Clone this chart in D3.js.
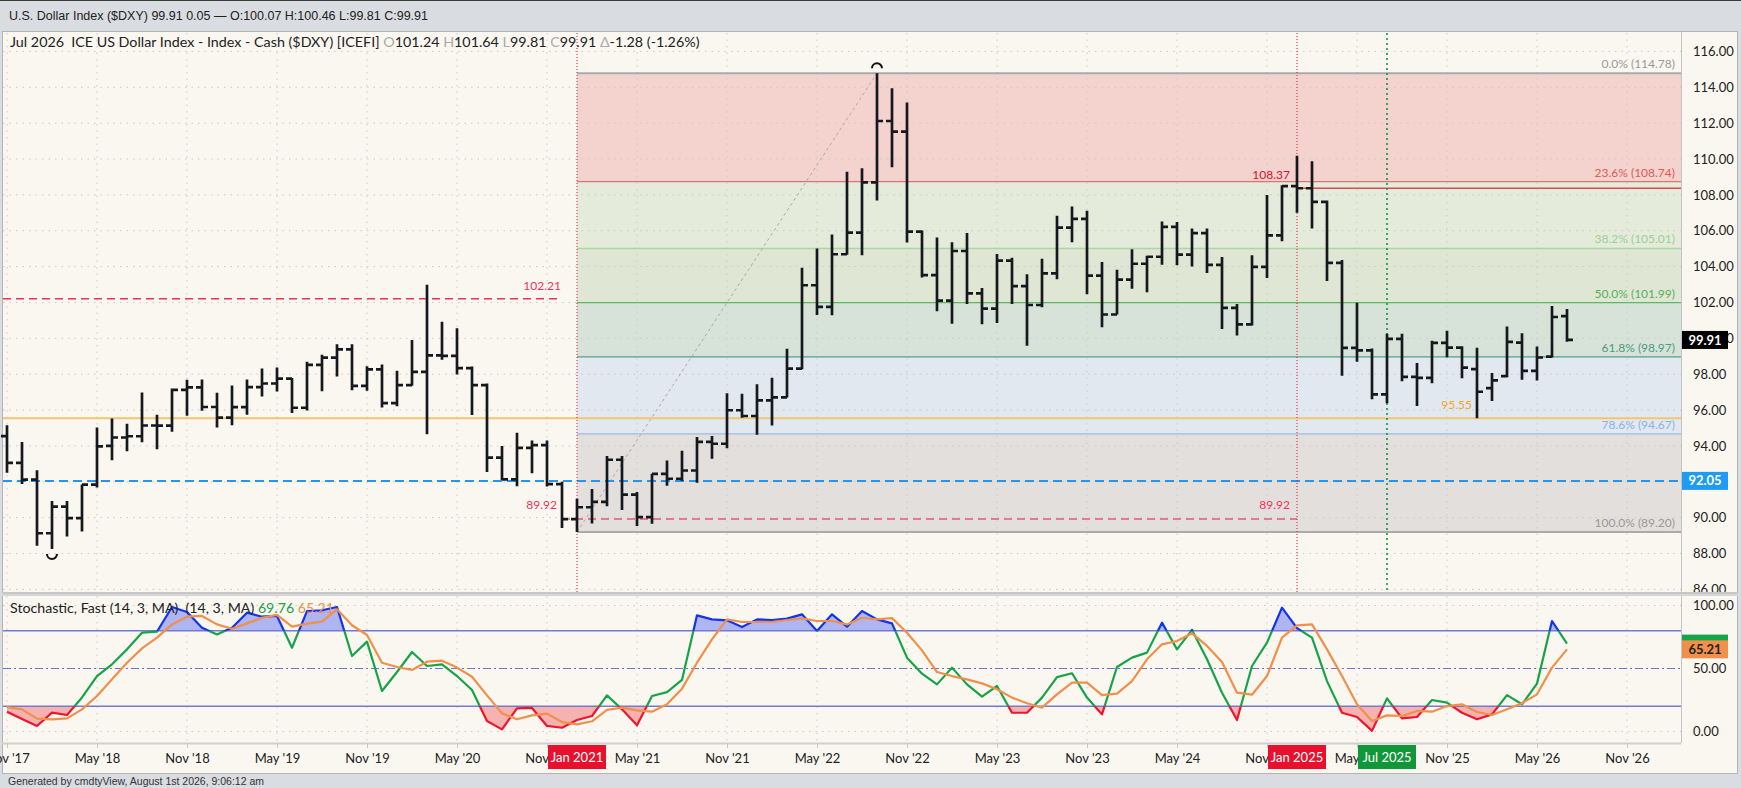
<!DOCTYPE html>
<html>
<head>
<meta charset="utf-8">
<script src="https://cdn.jsdelivr.net/npm/d3@7"></script>
<style>
  body { margin: 0; background: #d9dce0; }
  svg { display: block; font-family: Lato, "Open Sans", sans-serif; }
</style>
</head>
<body>
<div id="chart"></div>
<script>
/* monthly OHLC, Nov 2017 .. Jul 2026 */
const months = d3.timeMonth.range(new Date(2017, 10, 1), new Date(2026, 7, 1));

const open = [94.55, 93.06, 92.12, 89.13, 90.61, 89.97, 91.84, 94.00, 94.47, 94.54, 95.14, 95.13,
  97.13, 97.27, 96.17, 95.58, 96.16, 97.28, 97.48, 97.75, 96.13, 98.52, 98.92, 99.38,
  97.35, 98.27, 96.39, 97.39, 98.13, 99.05, 99.02, 98.34, 97.39, 93.35, 92.14, 93.89,
  94.04, 91.87, 89.92, 90.58, 90.88, 93.23, 91.28, 90.03, 92.44, 92.17, 92.63, 94.23,
  94.12, 95.99, 95.67, 96.54, 96.71, 98.31, 102.96, 101.75, 104.69, 105.90, 108.70, 112.12,
  111.53, 105.95, 103.52, 102.10, 104.87, 102.51, 101.66, 104.33, 102.91, 101.86, 103.62, 106.17,
  106.66, 103.50, 101.33, 103.27, 104.16, 104.55, 106.22, 104.67, 105.87, 104.10, 101.70, 100.78,
  103.99, 105.74, 108.49, 108.37, 107.61, 104.21, 99.47, 99.33, 96.88, 99.97, 97.85, 97.80,
  99.75, 99.48, 98.28, 97.22, 97.89, 99.76, 98.19, 98.98, 101.24];
const high = [95.15, 94.22, 92.64, 90.93, 90.93, 91.85, 95.03, 95.53, 95.24, 96.98, 95.74, 97.20,
  97.69, 97.71, 96.96, 97.37, 97.71, 98.32, 98.37, 97.79, 98.69, 99.09, 99.67, 99.67,
  98.45, 98.54, 98.19, 99.91, 102.99, 100.93, 100.56, 98.43, 97.48, 93.99, 94.74, 94.30,
  94.30, 92.00, 91.05, 91.60, 93.44, 93.44, 91.43, 92.45, 93.19, 93.73, 94.50, 94.56,
  96.94, 96.91, 97.44, 97.80, 99.42, 103.93, 105.01, 105.79, 109.29, 109.48, 114.78, 113.95,
  113.15, 106.02, 105.63, 105.36, 105.88, 102.81, 104.70, 104.50, 103.57, 104.44, 106.84, 107.35,
  107.11, 104.26, 103.82, 104.97, 104.60, 106.52, 106.49, 106.13, 106.13, 104.54, 101.91, 104.63,
  107.99, 108.54, 110.18, 109.88, 107.68, 104.37, 101.98, 99.44, 100.25, 100.26, 98.62, 99.86,
  100.42, 99.56, 99.48, 98.06, 100.66, 100.29, 99.54, 101.81, 101.64];
const low = [92.50, 91.87, 88.44, 88.25, 88.95, 89.23, 91.68, 93.20, 93.71, 94.21, 93.81, 94.79,
  95.68, 95.96, 95.03, 95.16, 95.74, 96.75, 97.04, 95.84, 95.98, 97.05, 97.87, 97.11,
  97.08, 96.14, 96.21, 97.35, 94.65, 98.81, 97.99, 95.72, 92.55, 92.10, 91.75, 92.47,
  91.74, 89.42, 89.20, 89.68, 90.63, 90.42, 89.53, 89.66, 91.78, 92.04, 91.94, 93.28,
  93.87, 95.57, 94.63, 95.14, 96.70, 98.28, 101.30, 101.29, 104.66, 104.64, 107.68, 109.54,
  105.34, 103.39, 101.51, 100.82, 101.92, 100.79, 100.86, 101.92, 99.58, 101.74, 103.29, 105.36,
  102.46, 100.62, 101.33, 102.76, 102.57, 104.10, 104.08, 104.01, 103.65, 100.52, 100.16, 100.71,
  103.37, 105.42, 107.00, 106.13, 103.20, 97.92, 98.69, 96.60, 96.38, 97.60, 96.23, 97.50,
  98.94, 97.78, 95.55, 96.51, 97.83, 97.69, 97.65, 98.93, 99.81];
const close = [93.05, 92.12, 89.13, 90.61, 89.97, 91.84, 93.98, 94.47, 94.54, 95.14, 95.13, 97.13,
  97.27, 96.17, 95.58, 96.16, 97.28, 97.48, 97.75, 96.13, 98.52, 98.92, 99.38, 97.35,
  98.27, 96.39, 97.39, 98.13, 99.05, 99.02, 98.34, 97.39, 93.35, 92.14, 93.89, 94.04,
  91.87, 89.92, 90.58, 90.88, 93.23, 91.28, 90.03, 92.44, 92.17, 92.63, 94.23, 94.12,
  95.99, 95.67, 96.54, 96.71, 98.31, 102.96, 101.75, 104.69, 105.90, 108.70, 112.12, 111.53,
  105.95, 103.52, 102.10, 104.87, 102.51, 101.66, 104.33, 102.91, 101.86, 103.62, 106.17, 106.66,
  103.50, 101.33, 103.27, 104.16, 104.55, 106.22, 104.67, 105.87, 104.10, 101.70, 100.78, 103.99,
  105.74, 108.49, 108.37, 107.61, 104.21, 99.47, 99.33, 96.88, 99.97, 97.85, 97.80, 99.75,
  99.48, 98.37, 97.02, 97.65, 99.80, 98.19, 98.93, 101.19, 99.91];

/* stochastic fast %K and %D */
const stochK = [15.7, 10, 4.4, 15, 13.1, 27, 44, 53.3, 65.2, 78.4, 79.2, 98.8,
  94.8, 82.4, 77, 82.4, 94.3, 91.1, 91.7, 66.5, 95.6, 96.2, 98.8, 59.9,
  71.3, 32.1, 47.2, 63.1, 52, 53.3, 44, 32.9, 8.3, 1.7, 18.4, 18.7,
  4.4, 3, 9.1, 12.3, 28.7, 17.6, 4.9, 28.2, 31.3, 40.9, 92.2, 89,
  88.2, 82.9, 89, 88.5, 89.6, 93, 79.8, 93, 83.2, 95.6, 89, 85.8,
  58.6, 45.9, 37.4, 50.7, 37.4, 27.6, 36.1, 14.9, 14.9, 26.9, 43.2, 46.2,
  26.9, 13.6, 51.2, 58.6, 62.6, 86.4, 65.2, 80.6, 57.3, 30.8, 9.1, 52,
  70.5, 98.3, 82, 74.5, 40, 14.9, 11.5, 0.5, 26.3, 10.4, 11.5, 25,
  22.9, 14.9, 9.7, 13.6, 28.9, 21.6, 38, 87.7, 69.76];
const stochD = [19.4, 17.6, 10.2, 9.7, 10.4, 17.6, 28.2, 41.4, 54.6, 66, 74.5, 85,
  91.1, 91.7, 85, 81.6, 85.8, 90.3, 92.5, 83.2, 85.6, 87.2, 97, 84.3,
  76.6, 54.6, 51.2, 48.8, 55.4, 56.2, 50.7, 43.5, 28.7, 14.4, 9.7, 12.8,
  14.2, 7.5, 5.7, 8.1, 17.1, 18.9, 16.8, 15.7, 21.6, 34, 54.6, 73.1,
  89, 86.9, 86.9, 86.9, 88.5, 89.8, 87.7, 87.7, 85, 90.3, 89, 90,
  78.4, 64.4, 47.2, 44, 41.4, 38.2, 33.5, 26.9, 22.4, 18.9, 29.5, 38.8,
  38.8, 28.9, 30, 40, 57.3, 69.2, 71.8, 77.9, 67.9, 55.1, 30.8, 29.2,
  44, 74.5, 84.3, 85, 65.2, 44, 21.6, 8.3, 12.8, 12.3, 16.3, 15.7,
  20.2, 21.6, 15.5, 13.1, 17.6, 22.4, 29.5, 50.7, 65.21];

const tickLabels = ["Nov '17", "May '18", "Nov '18", "May '19", "Nov '19", "May '20", "Nov '20",
  "May '21", "Nov '21", "May '22", "Nov '22", "May '23", "Nov '23", "May '24", "Nov '24",
  "May '25", "Nov '25", "May '26", "Nov '26"];
const tickIdx = tickLabels.map((d, i) => i * 6);

const priceTicks = d3.range(86, 117, 2);
const fibPct = ["0.0%", "23.6%", "38.2%", "50.0%", "61.8%", "78.6%", "100.0%"];
const fibVal = [114.78, 108.74, 105.01, 101.99, 98.97, 94.67, 89.20];

/* event markers on the time axis */
const markers = [
  { label: "Jan 2021", idx: 38, color: "#e8112d" },
  { label: "Jan 2025", idx: 86, color: "#e8112d" },
  { label: "Jul 2025", idx: 92, color: "#12963a" }
];

const width = 1741, height = 788;
const plot = { left: 3, right: 1681, top: 33, bottom: 592 };
const sp = { top: 596, bottom: 743 };

const svg = d3.select("#chart").append("svg")
  .attr("width", width).attr("height", height)
  .attr("viewBox", [0, 0, width, height]);

/* scales */
const x = d3.scaleLinear().domain([0, months.length - 1]).range([7, 1567]);
const y = d3.scaleLinear().domain([89.20, 114.78]).range([532, 73.3]);
const ys = d3.scaleLinear().domain([0, 100]).range([731.5, 605.5]);

/* background + frames */
svg.append("rect").attr("width", width).attr("height", height).attr("fill", "#d9dce0");
svg.append("rect").attr("width", width).attr("height", 1).attr("fill", "#3a3a3a");
svg.append("rect").attr("x", 2.5).attr("y", 31.5).attr("width", 1735).attr("height", 742)
  .attr("fill", "#faf7f0").attr("stroke", "#b4b4b4");

svg.append("text").attr("x", 9).attr("y", 20)
  .attr("font-family", "'Liberation Sans', Arial, sans-serif").attr("font-size", 12.5).attr("fill", "#222")
  .text("U.S. Dollar Index ($DXY) 99.91 0.05 \u2014 O:100.07 H:100.46 L:99.81 C:99.91");

/* fib bands */
const fibFill = ["#f4d2cd", "#e5ebda", "#dfe7d4", "#d7e3d9", "#e1e8ef", "#e3dfdc"];
const fibLine = ["#aaaaaa", "#e37272", "#a9d6a3", "#5cb862", "#4f9f87", "#9dbce2", "#aaaaaa"];
const fibText = ["#999999", "#e05a5a", "#9ccf96", "#55b05a", "#4a9c82", "#8db2e6", "#999999"];
const fx0 = x(38);

svg.append("g").selectAll("rect").data(d3.range(6)).join("rect")
  .attr("x", fx0).attr("width", plot.right - fx0)
  .attr("y", i => y(fibVal[i])).attr("height", i => y(fibVal[i + 1]) - y(fibVal[i]))
  .attr("fill", i => fibFill[i]);

/* grid */
const grid = svg.append("g").attr("stroke", "#c9c9c9").attr("stroke-dasharray", "1.5,5");
grid.selectAll(".gx").data(tickIdx).join("line")
  .attr("x1", d => x(d)).attr("x2", d => x(d)).attr("y1", plot.top).attr("y2", plot.bottom);
grid.selectAll(".gx2").data(tickIdx).join("line")
  .attr("x1", d => x(d)).attr("x2", d => x(d)).attr("y1", sp.top).attr("y2", sp.bottom);
grid.selectAll(".gy").data(priceTicks).join("line")
  .attr("x1", plot.left).attr("x2", plot.right).attr("y1", d => y(d)).attr("y2", d => y(d));
grid.selectAll(".gs").data([0, 100]).join("line")
  .attr("x1", plot.left).attr("x2", plot.right).attr("y1", d => ys(d)).attr("y2", d => ys(d));

/* fib lines + labels */
svg.append("g").selectAll("line").data(fibVal).join("line")
  .attr("x1", fx0).attr("x2", plot.right).attr("y1", d => y(d)).attr("y2", d => y(d))
  .attr("stroke", (d, i) => fibLine[i]).attr("stroke-width", (d, i) => (i === 0 || i === 6) ? 2 : 1.3);
svg.append("g").attr("font-size", 12).attr("text-anchor", "end")
  .selectAll("text").data(fibVal).join("text")
  .attr("x", plot.right - 6).attr("y", d => y(d) - 5)
  .attr("fill", (d, i) => fibText[i])
  .text((d, i) => `${fibPct[i]} (${d.toFixed(2)})`);

/* diagonal of the retracement */
svg.append("line")
  .attr("x1", x(38)).attr("y1", y(89.20)).attr("x2", x(58)).attr("y2", y(114.78))
  .attr("stroke", "#a9a9a9").attr("stroke-dasharray", "3,3");

/* horizontal studies */
svg.append("line").attr("x1", plot.left).attr("x2", x(37)).attr("y1", y(102.21)).attr("y2", y(102.21))
  .attr("stroke", "#f0325a").attr("stroke-width", 1.5).attr("stroke-dasharray", "8,5");
svg.append("line").attr("x1", x(37)).attr("x2", x(86)).attr("y1", y(89.92)).attr("y2", y(89.92))
  .attr("stroke", "#e6587a").attr("stroke-width", 1.5).attr("stroke-dasharray", "8,5");
svg.append("line").attr("x1", plot.left).attr("x2", plot.right).attr("y1", y(95.55)).attr("y2", y(95.55))
  .attr("stroke", "#f5c56e").attr("stroke-width", 2);
svg.append("line").attr("x1", plot.left).attr("x2", plot.right).attr("y1", y(92.05)).attr("y2", y(92.05))
  .attr("stroke", "#2196f3").attr("stroke-width", 2).attr("stroke-dasharray", "9,5");
svg.append("line").attr("x1", x(86)).attr("x2", plot.right).attr("y1", y(108.37)).attr("y2", y(108.37))
  .attr("stroke", "#d84c55").attr("stroke-width", 1.5);

const lab = svg.append("g").attr("font-size", 12).attr("text-anchor", "end");
lab.append("text").attr("x", x(37) - 1).attr("y", y(102.21) - 9).attr("fill", "#f0325a").text("102.21");
lab.append("text").attr("x", x(37) - 5).attr("y", y(89.92) - 10).attr("fill", "#f0325a").text("89.92");
lab.append("text").attr("x", x(86) - 7).attr("y", y(89.92) - 10).attr("fill", "#f0325a").text("89.92");
lab.append("text").attr("x", x(86) - 7).attr("y", y(108.37) - 9).attr("fill", "#d8102e").text("108.37");
lab.append("text").attr("x", x(98) - 5).attr("y", y(95.55) - 9).attr("fill", "#f5a623").text("95.55");

/* vertical event lines */
svg.append("g").selectAll("line").data(markers).join("line")
  .attr("x1", d => x(d.idx)).attr("x2", d => x(d.idx))
  .attr("y1", plot.top).attr("y2", plot.bottom)
  .attr("stroke", d => d.color)
  .attr("stroke-width", d => d.color === "#12963a" ? 1.6 : 1)
  .attr("stroke-dasharray", d => d.color === "#12963a" ? "2,3" : "1,2");

/* OHLC bars */
svg.append("g").attr("stroke", "#15191e").attr("stroke-width", 2.7).attr("fill", "none")
  .selectAll("path").data(months).join("path")
  .attr("d", (d, i) => {
    const cx = x(i);
    return `M${cx},${y(high[i])}V${y(low[i])}M${cx - 6},${y(open[i])}H${cx}M${cx},${y(close[i])}H${cx + 6}`;
  });

/* high / low markers */
const hiI = d3.maxIndex(high), loI = d3.minIndex(low);
svg.append("path").attr("fill", "none").attr("stroke", "#111").attr("stroke-width", 2)
  .attr("d", `M${x(hiI) - 5},${y(high[hiI]) - 5}A5,5 0 0 1 ${x(hiI) + 5},${y(high[hiI]) - 5}`);
svg.append("path").attr("fill", "none").attr("stroke", "#111").attr("stroke-width", 2)
  .attr("d", `M${x(loI) - 5},${y(low[loI]) + 5}A5,5 0 0 0 ${x(loI) + 5},${y(low[loI]) + 5}`);

/* chart title */
const t = svg.append("text").attr("x", 10).attr("y", 47).attr("font-size", 14.3).attr("fill", "#222");
t.append("tspan").text("Jul 2026\u2002ICE US Dollar Index - Index - Cash ($DXY) [ICEFI] ");
[["O", "101.24"], ["H", "101.64"], ["L", "99.81"], ["C", "99.91"], ["\u0394", "-1.28 (-1.26%)"]].forEach(([k, v]) => {
  t.append("tspan").attr("fill", "#aaa").text(" " + k);
  t.append("tspan").text(v);
});

/* right price axis */
svg.append("line").attr("x1", plot.right + 0.5).attr("x2", plot.right + 0.5)
  .attr("y1", 32).attr("y2", sp.bottom).attr("stroke", "#c4c4c4");
const ay = svg.append("g").attr("transform", `translate(${plot.right},0)`)
  .call(d3.axisRight(y).tickValues(priceTicks.filter(v => Math.abs(y(v) - y(92.05)) > 9))
    .tickFormat(d3.format(".2f")).tickSize(0).tickPadding(12));
ay.select(".domain").remove();
ay.selectAll("text").attr("font-size", 13).attr("fill", "#222").attr("font-family", "Lato, sans-serif");

function axisBox(val, scale, bg, fg) {
  const g = svg.append("g").attr("transform", `translate(${plot.right + 1},${scale(val)})`);
  g.append("rect").attr("y", -9).attr("width", 46).attr("height", 18).attr("fill", bg);
  if (fg) {
    g.append("text").attr("x", 23).attr("dy", "0.35em").attr("text-anchor", "middle")
      .attr("font-size", 13).attr("font-weight", 700).attr("fill", fg).text(val.toFixed(2));
  }
}
axisBox(close[close.length - 1], y, "#000", "#fff");
axisBox(92.05, y, "#1e9bf5", "#fff");

/* panel separator */
svg.append("rect").attr("x", 2).attr("y", plot.bottom).attr("width", 1736).attr("height", 4).attr("fill", "#d6d6d6");
svg.append("line").attr("x1", 2).attr("x2", 1738).attr("y1", plot.bottom + 1).attr("y2", plot.bottom + 1)
  .attr("stroke", "#b8b8b8");

/* stochastic panel */
const clipAbove = svg.append("clipPath").attr("id", "cAbove");
clipAbove.append("rect").attr("x", plot.left).attr("width", plot.right - plot.left)
  .attr("y", sp.top).attr("height", ys(80) - sp.top);
const clipBelow = svg.append("clipPath").attr("id", "cBelow");
clipBelow.append("rect").attr("x", plot.left).attr("width", plot.right - plot.left)
  .attr("y", ys(20)).attr("height", sp.bottom - ys(20));
const clipMid = svg.append("clipPath").attr("id", "cMid");
clipMid.append("rect").attr("x", plot.left).attr("width", plot.right - plot.left)
  .attr("y", ys(80)).attr("height", ys(20) - ys(80));

svg.append("path").datum(stochK).attr("clip-path", "url(#cAbove)")
  .attr("fill", "#aeb5f0")
  .attr("d", d3.area().x((d, i) => x(i)).y0(ys(80)).y1(d => ys(d)));
svg.append("path").datum(stochK).attr("clip-path", "url(#cBelow)")
  .attr("fill", "#f6b2b0")
  .attr("d", d3.area().x((d, i) => x(i)).y0(ys(20)).y1(d => ys(d)));

svg.append("g").attr("stroke", "#7479d2").attr("stroke-width", 1.5)
  .selectAll("line").data([80, 20]).join("line")
  .attr("x1", plot.left).attr("x2", plot.right).attr("y1", d => ys(d)).attr("y2", d => ys(d));
svg.append("line").attr("x1", plot.left).attr("x2", plot.right).attr("y1", ys(50)).attr("y2", ys(50))
  .attr("stroke", "#6f72d8").attr("stroke-width", 1.2).attr("stroke-dasharray", "8,3,2,3");

const kLine = d3.line().x((d, i) => x(i)).y(d => ys(d));
[["cMid", "#17a348"], ["cAbove", "#1233f0"], ["cBelow", "#f0142c"]].forEach(([c, col]) => {
  svg.append("path").datum(stochK).attr("clip-path", `url(#${c})`)
    .attr("fill", "none").attr("stroke", col).attr("stroke-width", 2.2)
    .attr("stroke-linejoin", "round").attr("d", kLine);
});
svg.append("path").datum(stochD).attr("fill", "none").attr("stroke", "#f0904a")
  .attr("stroke-width", 2.2).attr("stroke-linejoin", "round").attr("d", kLine);

const st = svg.append("text").attr("x", 10).attr("y", 613).attr("font-size", 14.2).attr("fill", "#222");
st.append("tspan").text("Stochastic, Fast (14, 3, MA)\u2002(14, 3, MA) ");
st.append("tspan").attr("fill", "#17a348").text(stochK[stochK.length - 1].toFixed(2) + " ");
st.append("tspan").attr("fill", "#f0904a").text(stochD[stochD.length - 1].toFixed(2));

const as = svg.append("g").attr("transform", `translate(${plot.right},0)`)
  .call(d3.axisRight(ys).tickValues([0, 50, 100]).tickFormat(d3.format(".2f")).tickSize(0).tickPadding(12));
as.select(".domain").remove();
as.selectAll("text").attr("font-size", 13).attr("fill", "#222").attr("font-family", "Lato, sans-serif");
axisBox(stochK[stochK.length - 1], ys, "#17a348", null);
axisBox(stochD[stochD.length - 1], ys, "#f0904a", "#222");

/* time axis */
svg.append("line").attr("x1", 2).attr("x2", plot.right).attr("y1", sp.bottom + 0.5).attr("y2", sp.bottom + 0.5)
  .attr("stroke", "#d0d0d0").attr("stroke-width", 2);
const ax = svg.append("g").attr("transform", `translate(0,${sp.bottom})`)
  .call(d3.axisBottom(x).tickValues(tickIdx).tickFormat((d, i) => tickLabels[i]).tickSize(5).tickPadding(6));
ax.select(".domain").remove();
ax.selectAll("line").attr("stroke", "#c8c8c8");
ax.selectAll("text").attr("font-size", 13).attr("fill", "#222").attr("font-family", "Lato, sans-serif");

const mk = svg.append("g").selectAll("g").data(markers).join("g")
  .attr("transform", d => `translate(${x(d.idx)},${sp.bottom + 14})`);
mk.append("rect").attr("x", -29).attr("y", -12).attr("width", 58).attr("height", 24).attr("fill", d => d.color);
mk.append("text").attr("text-anchor", "middle").attr("dy", "0.35em")
  .attr("font-size", 13).attr("fill", "#fff").text(d => d.label);

/* footer */
svg.append("rect").attr("x", 0).attr("y", 774).attr("width", width).attr("height", 14).attr("fill", "#d9dce0");
svg.append("text").attr("x", 8).attr("y", 785)
  .attr("font-family", "'Liberation Sans', Arial, sans-serif").attr("font-size", 10.5).attr("fill", "#333")
  .text("Generated by cmdtyView, August 1st 2026, 9:06:12 am");
</script>
</body>
</html>
